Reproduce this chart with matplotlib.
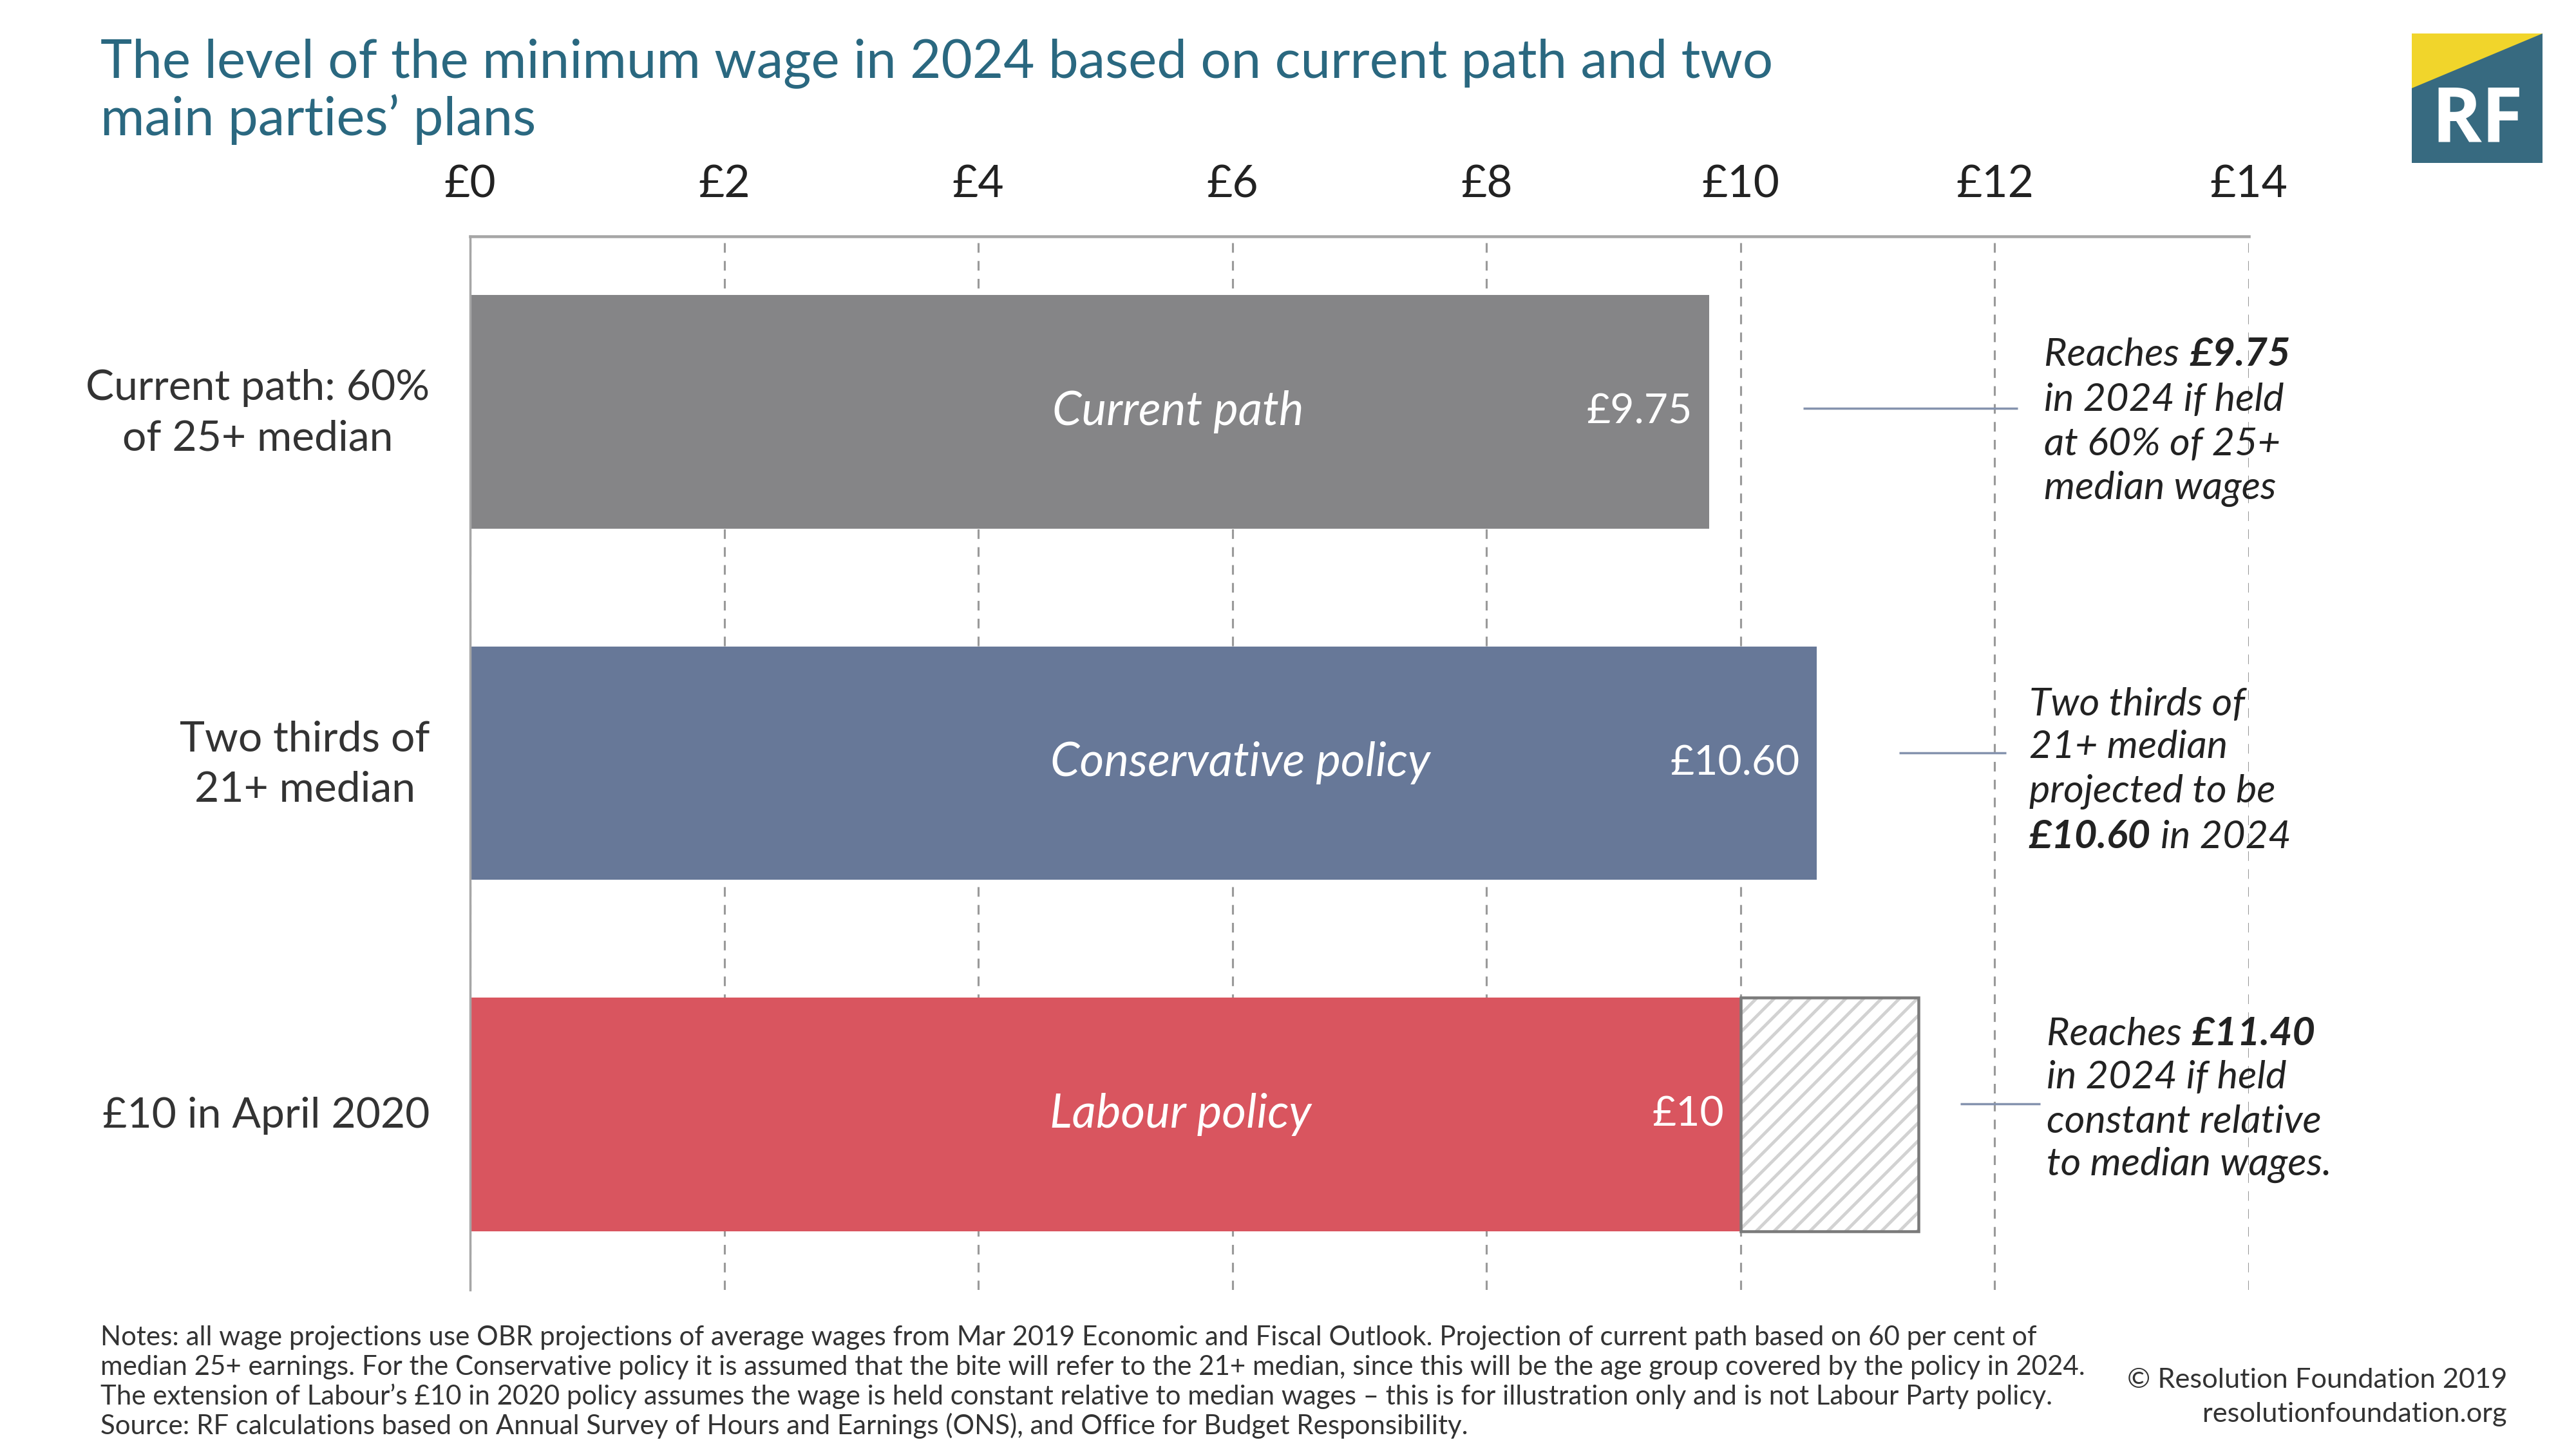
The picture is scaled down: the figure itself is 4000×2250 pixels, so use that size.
import matplotlib
matplotlib.use("Agg")
import matplotlib.pyplot as plt
from matplotlib.patches import Polygon, Rectangle

plt.rcParams['font.family'] = ['Lato', 'DejaVu Sans']
plt.rcParams['lines.scale_dashes'] = False
plt.rcParams['hatch.linewidth'] = 1.4

# ---------------- data ----------------
categories = ["Current path: 60%\nof 25+ median", "Two thirds of\n21+ median", "£10 in April 2020"]
values = [9.75, 10.60, 10.00]
value_labels = ["£9.75", "£10.60", "£10"]
bar_names = ["Current path", "Conservative policy", "Labour policy"]
bar_colors = ["#858587", "#677898", "#D9555F"]
labour_extension = 11.40
xticks = [0, 2, 4, 6, 8, 10, 12, 14]
xtick_labels = ["£0", "£2", "£4", "£6", "£8", "£10", "£12", "£14"]

annotations = [
    [[("Reaches ", False), ("£9.75", True)],
     [("in 2024 if held", False)],
     [("at 60% of 25+", False)],
     [("median wages", False)]],
    [[("Two thirds of", False)],
     [("21+ median", False)],
     [("projected to be", False)],
     [("£10.60", True), (" in 2024", False)]],
    [[("Reaches ", False), ("£11.40", True)],
     [("in 2024 if held", False)],
     [("constant relative", False)],
     [("to median wages.", False)]],
]

title_lines = ["The level of the minimum wage in 2024 based on current path and two",
               "main parties\u2019 plans"]
notes_lines = [
    "Notes: all wage projections use OBR projections of average wages from Mar 2019 Economic and Fiscal Outlook. Projection of current path based on 60 per cent of",
    "median 25+ earnings. For the Conservative policy it is assumed that the bite will refer to the 21+ median, since this will be the age group covered by the policy in 2024.",
    "The extension of Labour\u2019s £10 in 2020 policy assumes the wage is held constant relative to median wages \u2013 this is for illustration only and is not Labour Party policy.",
    "Source: RF calculations based on Annual Survey of Hours and Earnings (ONS), and Office for Budget Responsibility.",
]
credit_lines = ["\u00a9 Resolution Foundation 2019", "resolutionfoundation.org"]

# ---------------- figure ----------------
W, H = 4000, 2250
fig = plt.figure(figsize=(16, 9), dpi=250)
ax = fig.add_axes([730 / W, 1 - 2003 / H, (3492 - 730) / W, (2003 - 367) / H])

ypos = list(range(len(categories)))
bar_h = 0.665
ax.barh(ypos, values, height=bar_h, color=bar_colors, zorder=2)
# hatched extension for labour
ax.barh([2], [labour_extension - values[2]], left=values[2], height=bar_h,
        color="white", edgecolor="#D2D2D2", hatch="///", linewidth=0, zorder=2)
ax.barh([2], [labour_extension - values[2]], left=values[2], height=bar_h,
        fill=False, edgecolor="#7A7A7A", linewidth=1.3, zorder=3)

ax.set_xlim(0, 14)
ax.set_ylim(2.5, -0.5)

ax.xaxis.tick_top()
ax.set_xticks(xticks)
ax.set_xticklabels(xtick_labels, fontsize=20, color="#222222")
ax.tick_params(axis='x', length=0, pad=14)
ax.set_yticks(ypos)
ax.set_yticklabels([])
ax.tick_params(axis='y', length=0)
# category labels (centred lines, right-aligned block)
for i, cat in enumerate(categories):
    ax.annotate(cat, xy=(0, i), xycoords=('axes fraction', 'data'),
                xytext=(-18, -0.5), textcoords='offset points',
                ha='right', va='center', multialignment='center',
                fontsize=19, color="#333333", linespacing=1.4,
                annotation_clip=False)

ax.grid(axis='x', color="#9A9A9A", linewidth=0.9, dashes=(4.3, 3.7))
ax.grid(axis='y', visible=False)
ax.set_axisbelow(True)
for s in ['right', 'bottom']:
    ax.spines[s].set_visible(False)
ax.spines['top'].set_color("#A6A6A6")
ax.spines['top'].set_linewidth(1.3)
ax.spines['left'].set_color("#A6A6A6")
ax.spines['left'].set_linewidth(1.0)

# bar labels
name_x = [5.57, 6.06, 5.59]
for i in ypos:
    ax.text(name_x[i], i, bar_names[i], ha='center', va='center', fontsize=21,
            style='italic', color='white', zorder=4)
    ax.annotate(value_labels[i], xy=(values[i], i), xytext=(-7.5, 0),
                textcoords='offset points', ha='right', va='center',
                fontsize=18.5, color='white', zorder=4)

# connector lines
connectors = [(10.49, 12.18, -0.01), (11.25, 12.09, 0.97), (11.73, 12.36, 1.97)]
for x0, x1, yy in connectors:
    ax.plot([x0, x1], [yy, yy], color="#8593AE", linewidth=1.0, zorder=3,
            solid_capstyle='butt')

# annotation texts
block_x = [12.39, 12.27, 12.41]
block_y = [[-0.162, -0.035, 0.092, 0.219],
           [0.833, 0.955, 1.082, 1.209],
           [1.772, 1.894, 2.021, 2.144]]
for b, lines in enumerate(annotations):
    for li, segs in enumerate(lines):
        prev = None
        for text, bold in segs:
            kw = dict(fontsize=17.6, style='italic', color="#222222",
                      fontweight='bold' if bold else 'normal', zorder=4,
                      annotation_clip=False)
            if prev is None:
                prev = ax.annotate(text.rstrip(), xy=(block_x[b], block_y[b][li]),
                                   ha='left', va='center', **kw)
                gap = 4.5 if text.endswith(' ') else 0
            else:
                lead = 4.5 if text.startswith(' ') else gap
                prev = ax.annotate(text.strip(), xy=(1, 0), xycoords=prev,
                                   xytext=(lead, 0), textcoords='offset points',
                                   ha='left', va='bottom', **kw)
                gap = 0

# title
title_col = "#2A6880"
fig.text(156 / W, 1 - 120 / H, title_lines[0], fontsize=24, color=title_col,
         fontweight='normal', va='baseline', ha='left')
fig.text(156 / W, 1 - 210 / H, title_lines[1], fontsize=24, color=title_col,
         fontweight='normal', va='baseline', ha='left')

# logo
lx0, lx1, ly0, ly1 = 3745 / W, 3948 / W, 1 - 253 / H, 1 - 52 / H
fig.patches.append(Rectangle((lx0, ly0), lx1 - lx0, ly1 - ly0, transform=fig.transFigure,
                             facecolor="#376A80", edgecolor='none'))
fig.patches.append(Polygon([(lx0, ly1), (lx1, ly1), (lx0, 1 - 137 / H)], closed=True,
                           transform=fig.transFigure, facecolor="#F1D52B", edgecolor='none'))
fig.text((lx0 + lx1) / 2, 1 - 190 / H, "RF", fontsize=34, fontweight='bold',
         color='white', ha='center', va='center', family=['Open Sans', 'DejaVu Sans'])

# notes
note_base = [2089, 2135, 2181, 2227]
for yb, line in zip(note_base, notes_lines):
    fig.text(156 / W, 1 - yb / H, line, fontsize=12.1, color="#333333",
             va='baseline', ha='left')
fig.text(3893 / W, 1 - 2155 / H, credit_lines[0], fontsize=12.5, color="#333333",
         va='baseline', ha='right')
fig.text(3893 / W, 1 - 2208 / H, credit_lines[1], fontsize=12.5, color="#333333",
         va='baseline', ha='right')

fig.savefig("out.png", dpi=250)
